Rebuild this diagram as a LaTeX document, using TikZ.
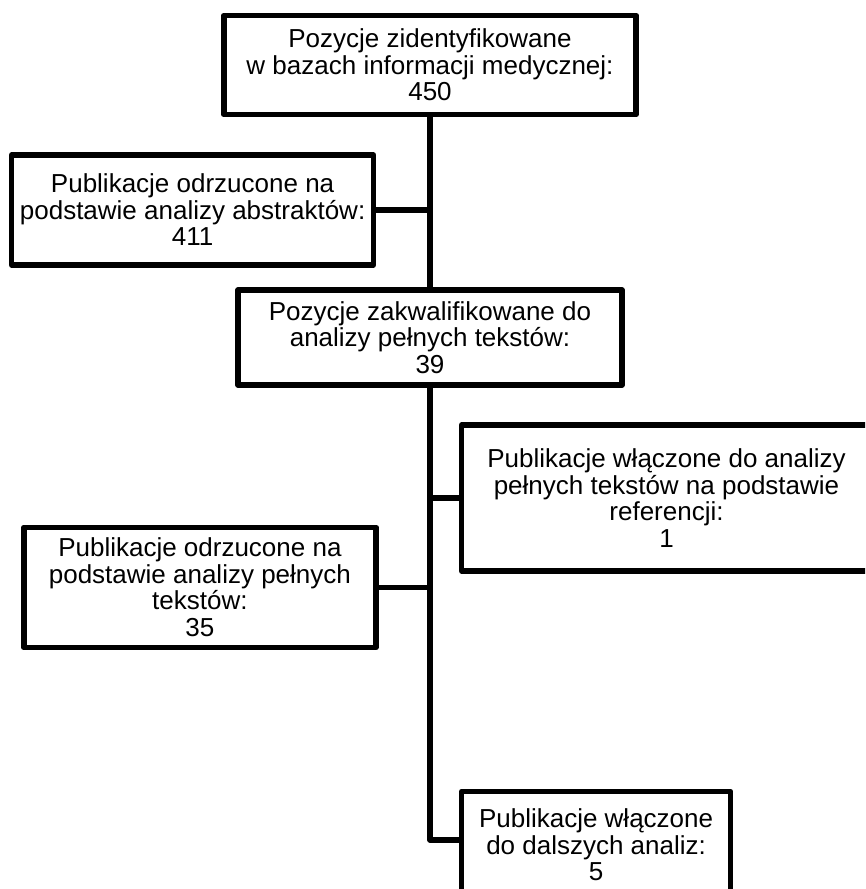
\documentclass[tikz,border=0pt]{standalone}
\usepackage{fontspec}
\setmainfont{Liberation Sans}
\begin{document}
\begin{tikzpicture}[x=1pt,y=-1pt,
  box/.style={draw, line width=5.5pt, line join=round, inner sep=0pt, align=center,
    font=\fontsize{26}{26.5}\selectfont},
  conn/.style={line width=5.5pt, line join=round}]
\useasboundingbox (0,0) rectangle (865,889);
\clip (0,0) rectangle (865,889);
\node[box, minimum width=412.3pt, minimum height=99pt] (b1) at (430,65)
  {Pozycje zidentyfikowane\\w bazach informacji medycznej:\\450};
\node[box, minimum width=361.8pt, minimum height=110pt] (b2) at (192.6,210)
  {Publikacje odrzucone na\\podstawie analizy abstraktów:\\411};
\node[box, minimum width=384.2pt, minimum height=95pt] (b3) at (430,337.5)
  {Pozycje zakwalifikowane do\\analizy pełnych tekstów:\\39};
\node[box, minimum width=409.6pt, minimum height=146pt] (b4) at (666.5,498)
  {Publikacje włączone do analizy\\pełnych tekstów na podstawie\\referencji:\\1};
\node[box, minimum width=352.3pt, minimum height=120.2pt] (b5) at (199.9,587.4)
  {Publikacje odrzucone na\\podstawie analizy pełnych\\tekstów:\\35};
\node[box, minimum width=268.8pt, minimum height=107pt] (b6) at (596.1,845)
  {Publikacje włączone\\do dalszych analiz:\\5};
\coordinate (j6) at ([yshift=5pt]b6.west);
\draw[conn] (b1.south) -- (b3.north);
\draw[conn] (b2.east) -- (b2.east -| b1.south);
\draw[conn] (b3.south) -- (b3.south |- j6) -- (j6);
\draw[conn] (b4.west) -- (b4.west -| b3.south);
\draw[conn] (b5.east) -- (b5.east -| b3.south);
\end{tikzpicture}
\end{document}
